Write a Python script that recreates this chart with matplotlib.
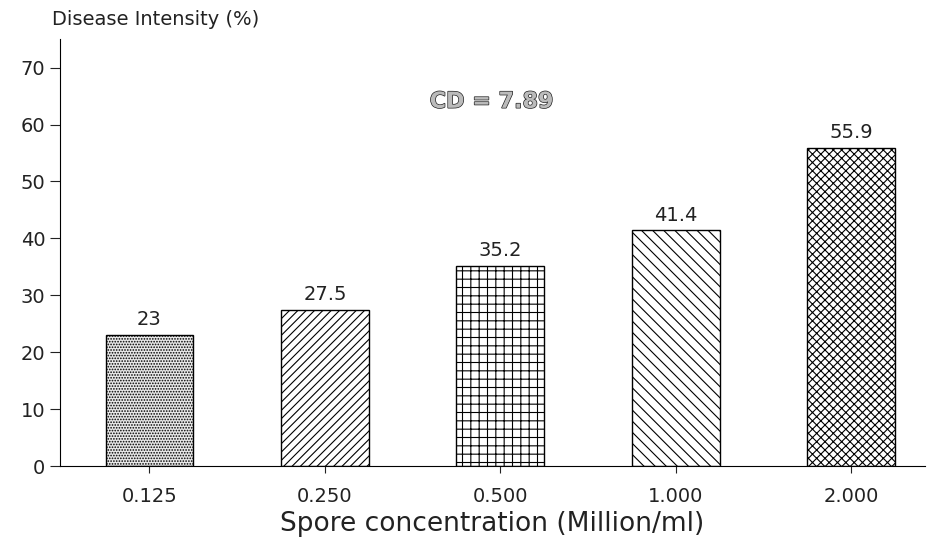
import matplotlib
matplotlib.use('Agg')
import matplotlib.pyplot as plt
import matplotlib.patheffects as pe

concentrations = ['0.125', '0.250', '0.500', '1.000', '2.000']
intensity = [23, 27.5, 35.2, 41.4, 55.9]
value_labels = ['23', '27.5', '35.2', '41.4', '55.9']
hatches = ['......', '////', '++', '\\\\\\', 'xxxx']
faces = ['#e8e8e8', 'white', 'white', 'white', 'white']

plt.rcParams['font.family'] = ['DejaVu Sans']
plt.rcParams['hatch.linewidth'] = 0.8

fig = plt.figure(figsize=(9.33, 5.43), dpi=100)
ax = fig.add_axes([0.0643, 0.1418, 0.927, 0.786])

x = list(range(len(concentrations)))
bars = ax.bar(x, intensity, width=0.5, color=faces, edgecolor='black',
              linewidth=1.0)
for b, h in zip(bars, hatches):
    b.set_hatch(h)

for xi, v, lab in zip(x, intensity, value_labels):
    ax.text(xi, v + 1.0, lab, ha='center', va='bottom', fontsize=14,
            color='#222222')

ax.set_xlim(-0.51, 4.42)
ax.set_ylim(0, 75)
ax.set_yticks(range(0, 71, 10))
ax.set_xticks(x)
ax.set_xticklabels(concentrations)
ax.tick_params(axis='both', labelsize=14, width=0.8, colors='#222222')
ax.tick_params(axis='y', length=7)
ax.tick_params(axis='x', length=5, pad=10)
ax.spines['top'].set_visible(False)
ax.spines['right'].set_visible(False)

ax.set_xlabel('Spore concentration (Million/ml)', fontsize=19, labelpad=4,
              color='#222222')
fig.text(0.056, 0.965, 'Disease Intensity (%)', fontsize=14, va='center',
         color='#222222')
ax.text(1.95, 64, 'CD = 7.89', ha='center', va='center', fontsize=16,
        fontweight='bold', color='#bbbbbb',
        path_effects=[pe.withStroke(linewidth=1.0, foreground='#222222')])

fig.savefig('out.png', dpi=100)
